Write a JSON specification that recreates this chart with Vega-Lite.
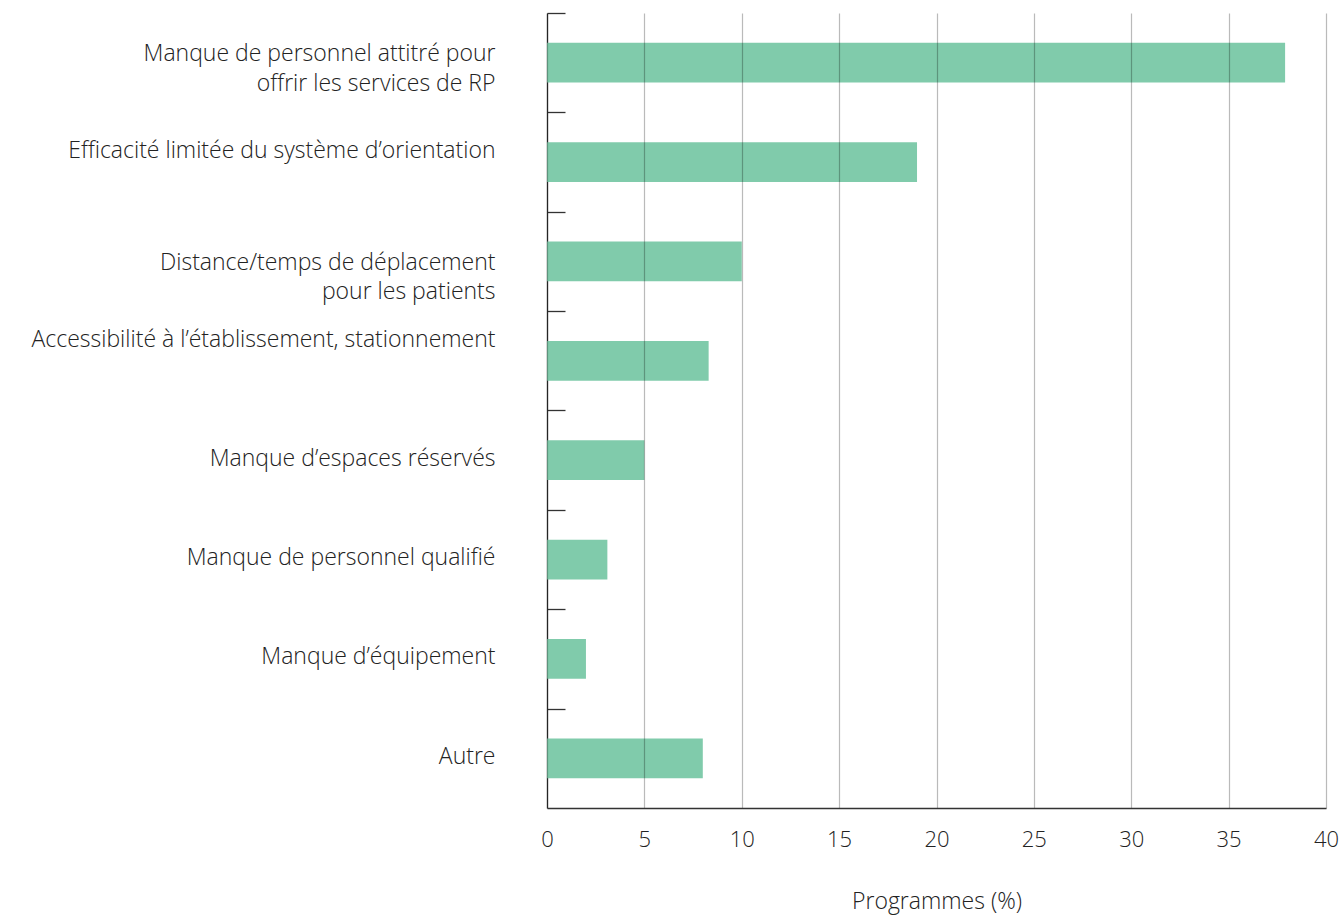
{
  "$schema": "https://vega.github.io/schema/vega-lite/v6.json",
  "autosize": {"type": "none"},
  "padding": {"left": 547, "top": 13, "right": 15, "bottom": 107},
  "width": 779,
  "height": 795,
  "background": "white",
  "config": {
    "font": "Open Sans",
    "view": {"stroke": null}
  },
  "data": {
    "values": [
      {"cat": "Manque de personnel attitré pour|offrir les services de RP", "val": 37.9},
      {"cat": "Efficacité limitée du système d’orientation", "val": 19.0},
      {"cat": "Distance/temps de déplacement|pour les patients", "val": 10.0},
      {"cat": "Accessibilité à l’établissement, stationnement", "val": 8.3},
      {"cat": "Manque d’espaces réservés", "val": 5.0},
      {"cat": "Manque de personnel qualifié", "val": 3.1},
      {"cat": "Manque d’équipement", "val": 2.0},
      {"cat": "Autre", "val": 8.0}
    ]
  },
  "mark": {"type": "bar", "color": "#80cbab"},
  "encoding": {
    "y": {
      "field": "cat",
      "type": "nominal",
      "sort": null,
      "scale": {"paddingInner": 0.6, "paddingOuter": 0.3},
      "axis": {
        "title": null,
        "labelExpr": "split(datum.label, '|')",
        "labelFontSize": 23,
        "labelFontWeight": 300,
        "labelColor": "#222222",
        "labelLineHeight": 29.5,
        "labelPadding": 70,
        "labelLimit": 600,
        "tickOffset": -49.7,
        "tickSize": -18,
        "tickColor": "#333333",
        "tickWidth": 1.3,
        "domainColor": "#333333",
        "domainWidth": 1.3,
        "grid": false,
        "labelOffset": {
          "condition": [
            {"test": "datum.value == 'Manque de personnel attitré pour|offrir les services de RP'", "value": 40.7},
            {"test": "datum.value == 'Efficacité limitée du système d’orientation'", "value": 37.7},
            {"test": "datum.value == 'Distance/temps de déplacement|pour les patients'", "value": 50.7},
            {"test": "datum.value == 'Accessibilité à l’établissement, stationnement'", "value": 28.7}
          ],
          "value": 47.7
        }
      }
    },
    "x": {
      "field": "val",
      "type": "quantitative",
      "scale": {"domain": [0, 40], "nice": false},
      "axis": {
        "title": "Programmes (%)",
        "titleFontSize": 23,
        "titleFontWeight": 300,
        "titleColor": "#222222",
        "titlePadding": 40,
        "values": [0, 5, 10, 15, 20, 25, 30, 35, 40],
        "labelFontSize": 22,
        "labelFontWeight": 300,
        "labelColor": "#222222",
        "labelPadding": 21,
        "labelFlush": false,
        "ticks": false,
        "grid": true,
        "gridColor": "#000000",
        "gridOpacity": 0.27,
        "gridWidth": 1.2,
        "domainColor": "#333333",
        "domainWidth": 1.3,
        "zindex": 1
      }
    }
  }
}
